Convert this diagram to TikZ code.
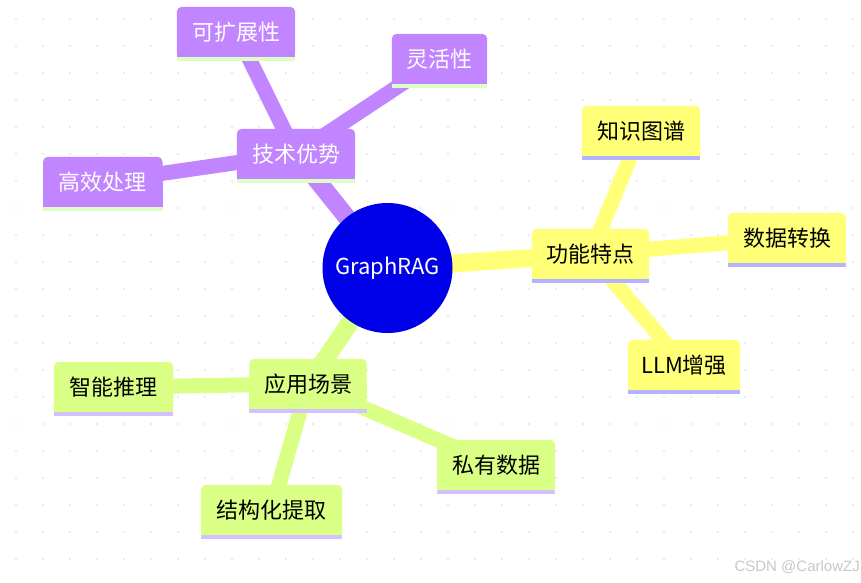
\documentclass[tikz,border=0pt]{standalone}
\usepackage{fontspec}
\newfontfamily\cjk{Noto Sans CJK SC}
\newfontfamily\wmfont{Liberation Sans}
\definecolor{rootblue}{HTML}{0000E8}
\definecolor{mmpurple}{HTML}{C185FF}
\definecolor{mmyellow}{HTML}{FFFF78}
\definecolor{mmgreen}{HTML}{D9FF85}
\definecolor{stripeP}{HTML}{DCFFC4}
\definecolor{stripeY}{HTML}{B3B3FF}
\definecolor{stripeG}{HTML}{D4BFFF}
\definecolor{griddot}{HTML}{EBEBEB}
\definecolor{wmgray}{HTML}{C8C8C8}
\pgfdeclarelayer{bg}
\pgfdeclarelayer{edges}
\pgfdeclarelayer{boxes}
\pgfsetlayers{bg,edges,boxes,main}
\newcommand\drawmmbox[3]{%
  \begin{pgfonlayer}{boxes}
    \fill[#2, rounded corners=5pt] (#1.south west) rectangle (#1.north east);
    \fill[#2] (#1.south west) rectangle (#1.east);
    \fill[#3] (#1.south west) rectangle ([yshift=-4pt]#1.south east);
  \end{pgfonlayer}}
\begin{document}
\begin{tikzpicture}[x=1pt,y=-1pt,
  mmbox/.style={minimum width=#1pt, minimum height=50pt, inner sep=0pt,
    font=\cjk\fontsize{22}{26}\selectfont},
  rootedge/.style={line width=18pt},
  childedge/.style={line width=15pt}]
\begin{pgfonlayer}{bg}
  \fill[white] (0,0) rectangle (861,582);
  \foreach \i in {0,...,31} \foreach \j in {0,...,20}
    \fill[griddot] ({16+27*\i-1.3},{19+27*\j-1.3}) rectangle +(2.6,2.6);
\end{pgfonlayer}
\useasboundingbox (0,0) rectangle (861,582);

% root
\node[circle, fill=rootblue, minimum size=130pt, inner sep=0pt, text=white,
  font=\cjk\fontsize{22}{26}\selectfont] (root) at (387.5,268) {GraphRAG};

% purple section
\node[mmbox=118, text=white] (tech) at (296,154) {技术优势};
\node[mmbox=118, text=white] (scal) at (236,32) {可扩展性};
\node[mmbox=95, text=white] (flex) at (439.5,59) {灵活性};
\node[mmbox=119, text=white] (eff) at (102.8,182) {高效处理};
% yellow section
\node[mmbox=117, text=black] (feat) at (590.5,254) {功能特点};
\node[mmbox=118, text=black] (kg) at (641,131) {知识图谱};
\node[mmbox=118, text=black] (conv) at (787,238) {数据转换};
\node[mmbox=112, text=black] (llm) at (684,365) {LLM增强};
% green section
\node[mmbox=117, text=black] (app) at (308,384) {应用场景};
\node[mmbox=119, text=black] (reason) at (113.6,387) {智能推理};
\node[mmbox=118, text=black] (priv) at (496,465) {私有数据};
\node[mmbox=141, text=black] (ext) at (271.5,510) {结构化提取};

\drawmmbox{tech}{mmpurple}{stripeP}
\drawmmbox{scal}{mmpurple}{stripeP}
\drawmmbox{flex}{mmpurple}{stripeP}
\drawmmbox{eff}{mmpurple}{stripeP}
\drawmmbox{feat}{mmyellow}{stripeY}
\drawmmbox{kg}{mmyellow}{stripeY}
\drawmmbox{conv}{mmyellow}{stripeY}
\drawmmbox{llm}{mmyellow}{stripeY}
\drawmmbox{app}{mmgreen}{stripeG}
\drawmmbox{reason}{mmgreen}{stripeG}
\drawmmbox{priv}{mmgreen}{stripeG}
\drawmmbox{ext}{mmgreen}{stripeG}

\begin{pgfonlayer}{edges}
  \draw[rootedge, mmpurple] (root.center) -- (tech.center);
  \draw[rootedge, mmyellow] (root.center) -- (feat.center);
  \draw[rootedge, mmgreen] (root.center) -- (app.center);
  \draw[childedge, mmpurple] (tech.center) -- (scal.center);
  \draw[childedge, mmpurple] (tech.center) -- (flex.center);
  \draw[childedge, mmpurple] (tech.center) -- (eff.center);
  \draw[childedge, mmyellow] (feat.center) -- (kg.center);
  \draw[childedge, mmyellow] (feat.center) -- (conv.center);
  \draw[childedge, mmyellow] (feat.center) -- (llm.center);
  \draw[childedge, mmgreen] (app.center) -- (reason.center);
  \draw[childedge, mmgreen] (app.center) -- (priv.center);
  \draw[childedge, mmgreen] (app.center) -- (ext.center);
\end{pgfonlayer}

\node[anchor=east, inner sep=0pt, text=wmgray, font=\wmfont\fontsize{15}{18}\selectfont]
  (wm) at (860,567) {CSDN @CarlowZJ};
\end{tikzpicture}
\end{document}
